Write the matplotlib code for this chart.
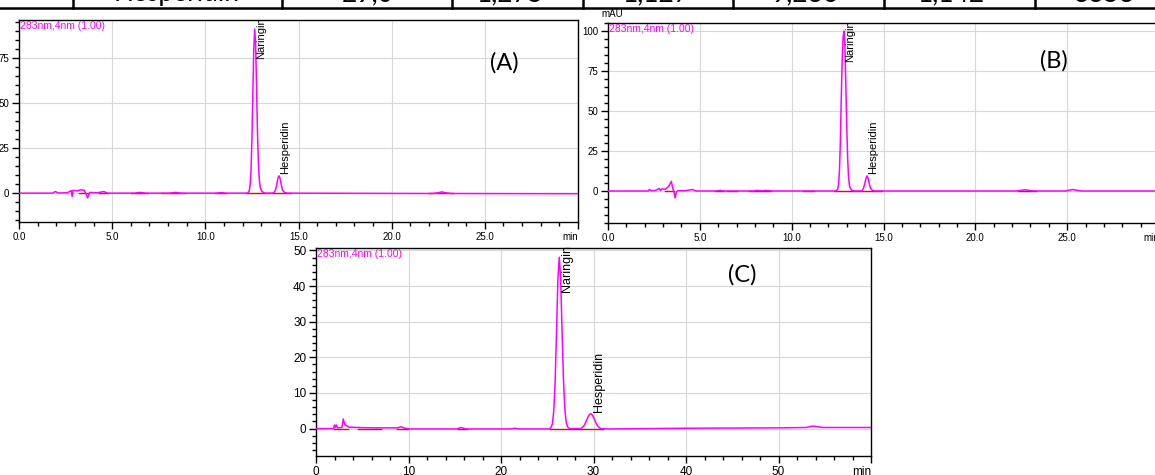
import matplotlib
matplotlib.use("Agg")
import matplotlib.pyplot as plt
from matplotlib.ticker import MultipleLocator


TABLE_ROW = ["Hesperidin", "29,0", "1,275", "1,127", "9,236", "1,142", "3353"]
PEAK_NAMES = ["Naringin", "Hesperidin"]
CHANNEL = "283nm,4nm (1.00)"

# chromatogram (A)
A_TIME = [0.0, 1.8, 1.95, 2.1, 2.6, 2.8, 2.85, 2.9, 3.1, 3.3, 3.5, 3.6, 3.68, 3.8, 4.2,
          4.55, 4.75, 6.2, 6.5, 6.8, 8.1, 8.4, 8.7, 10.6, 10.85, 11.1, 12.25, 12.35, 12.4,
          12.45, 12.5, 12.55, 12.6, 12.65, 12.7, 12.75, 12.8, 12.85, 12.9, 12.95, 13.05,
          13.2, 13.6, 13.7, 13.75, 13.8, 13.85, 13.9, 13.95, 14.0, 14.05, 14.1, 14.15,
          14.25, 14.4, 22.2, 22.5, 22.7, 22.9, 23.2, 30.0]
A_MAU = [0.0, 0.0, 0.9, 0.1, 0.2, 1.4, -1.8, 1.6, 1.2, 1.8, 1.6, -0.5, -2.6, 0.4, 0.2,
         0.9, 0.0, 0.0, 0.4, 0.0, 0.0, 0.4, 0.0, 0.0, 0.3, 0.0, 0.0, 1.0, 4.0,
         12.0, 30.0, 55.0, 80.0, 91.0, 82.0, 58.0, 33.0, 16.0, 7.0, 3.0, 0.8,
         0.0, 0.0, 0.5, 1.4, 3.2, 5.8, 8.4, 9.6, 8.6, 6.0, 3.5, 1.6,
         0.4, 0.0, -0.2, 0.2, 0.7, 0.2, -0.2, -0.3]
A_BASELINE = [(3.2, 3.7), (4.3, 4.8), (6.0, 6.9), (7.6, 8.9), (10.5, 11.1), (12.2, 14.6),
              (22.0, 23.3)]
A_PEAK_RT = [12.65, 13.95]
A_PEAK_MAU = [91.0, 9.6]

# chromatogram (B)
B_TIME = [0.0, 2.2, 2.25, 2.35, 2.6, 2.8, 2.85, 2.95, 3.1, 3.3, 3.45, 3.52, 3.6, 3.65,
          3.72, 3.8, 4.2, 4.6, 4.8, 5.9, 6.1, 6.3, 7.9, 8.1, 8.4, 8.6, 8.9, 12.4, 12.5,
          12.55, 12.6, 12.65, 12.7, 12.75, 12.8, 12.85, 12.9, 12.95, 13.0, 13.05, 13.1,
          13.15, 13.25, 13.4, 13.8, 13.85, 13.9, 13.95, 14.0, 14.05, 14.1, 14.15, 14.2,
          14.25, 14.3, 14.4, 14.55, 22.2, 22.5, 22.7, 22.9, 23.2, 24.9, 25.1, 25.3, 25.5,
          25.8, 30.0]
B_MAU = [0.0, 0.0, 0.9, 0.2, 0.4, 1.6, 0.2, 1.4, 1.0, 2.8, 6.0, 2.0, -1.0, -4.3,
         -0.8, 0.2, 0.2, 0.9, 0.0, 0.0, 0.3, 0.0, 0.0, 0.4, 0.1, 0.4, 0.0, 0.0, 1.0,
         4.0, 12.0, 30.0, 58.0, 82.0, 96.0, 100.0, 90.0, 66.0, 40.0, 20.0, 8.0,
         3.0, 0.6, 0.0, 0.0, 0.6, 1.5, 3.2, 5.6, 8.0, 9.4, 8.5, 6.0,
         3.5, 1.6, 0.4, 0.0, 0.0, 0.4, 0.8, 0.4, 0.0, 0.0, 0.5, 0.9, 0.5,
         0.0, 0.0]
B_BASELINE = [(3.1, 3.6), (5.8, 6.3), (6.5, 7.0), (7.7, 8.9), (10.6, 11.2), (12.3, 14.9),
              (22.3, 23.3)]
B_PEAK_RT = [12.85, 14.1]
B_PEAK_MAU = [100.0, 9.4]

# chromatogram (C)
C_TIME = [0.0, 1.9, 2.0, 2.1, 2.2, 2.35, 2.8, 2.95, 3.1, 3.3, 3.6, 4.5, 6.5, 8.8, 9.2,
          9.6, 10.2, 15.2, 15.7, 16.2, 21.0, 21.5, 22.0, 25.2, 25.4, 25.55, 25.7, 25.85,
          26.0, 26.15, 26.3, 26.45, 26.6, 26.75, 26.9, 27.05, 27.2, 27.4, 28.6, 28.8,
          29.0, 29.2, 29.4, 29.55, 29.7, 29.85, 30.0, 30.2, 30.4, 30.6, 30.8, 31.5,
          40.0, 50.0, 53.0, 53.5, 53.8, 54.3, 54.8, 60.0]
C_MAU = [0.0, 0.0, 1.0, 0.4, 1.0, 0.2, 0.3, 2.7, 1.2, 0.8, 0.4, 0.3, 0.2, 0.2, 0.5,
         0.1, -0.1, -0.1, 0.3, -0.1, -0.1, 0.1, -0.1, -0.1, 0.3, 1.3, 4.9, 13.0,
         27.0, 41.9, 48.1, 42.0, 27.5, 14.0, 5.5, 1.8, 0.5, 0.0, 0.0, 0.3,
         0.9, 2.0, 3.2, 3.9, 4.2, 3.9, 3.2, 2.0, 0.9, 0.3, 0.0, -0.1,
         0.1, 0.2, 0.3, 0.6, 0.7, 0.5, 0.3, 0.3]
C_BASELINE = [(1.9, 3.5), (4.5, 7.0), (8.8, 9.9), (15.3, 16.3), (25.3, 31.0)]
C_PEAK_RT = [26.3, 29.7]
C_PEAK_MAU = [48.1, 4.2]

MAGENTA = "#ff00ff"
TICK_FONT = "Liberation Sans"


def draw_panel(ax, time, mau, baseline, peak_rt, peak_mau, tag, tag_pos,
               xlim, ylim, xstep, xminor, ystep, yminor, xfmt, tick_fs, name_fs, name_off):
    for t0, t1 in baseline:
        ax.plot([t0, t1], [0, 0], color="red", lw=1.0, zorder=2)
    ax.plot(time, mau, color=MAGENTA, lw=1.1, zorder=3)

    ax.set_xlim(*xlim)
    ax.set_ylim(*ylim)
    xt = [xlim[0] + i * xstep for i in range(int(round((xlim[1] - xlim[0]) / xstep)) + 1)]
    ax.set_xticks(xt)
    ax.set_xticklabels([xfmt.format(v) for v in xt[:-1]] + ["min"])
    ax.get_xticklabels()[-1].set_ha("right")
    ax.xaxis.set_minor_locator(MultipleLocator(xminor))
    ax.yaxis.set_major_locator(MultipleLocator(ystep))
    ax.yaxis.set_minor_locator(MultipleLocator(yminor))
    ax.tick_params(which="major", direction="out", length=5, width=1, labelsize=tick_fs, pad=2)
    ax.tick_params(which="minor", direction="out", length=3, width=1)
    for lab in ax.get_xticklabels() + ax.get_yticklabels():
        lab.set_fontfamily(TICK_FONT)
    ax.grid(True, which="major", color="#d8d8d8", lw=0.8)
    ax.set_axisbelow(True)
    for sp in ax.spines.values():
        sp.set_linewidth(1.0)

    ax.text(0.002, 0.995, CHANNEL, transform=ax.transAxes, color=MAGENTA, fontsize=7.5,
            family=TICK_FONT, ha="left", va="top")

    for name, rt, h in zip(PEAK_NAMES, peak_rt, peak_mau):
        if h > 0.5 * ylim[1]:
            ax.annotate(name, xy=(rt, 1.0), xycoords=("data", "axes fraction"),
                        xytext=(name_off, 3), textcoords="offset pixels", rotation=90,
                        ha="center", va="top", fontsize=name_fs, family=TICK_FONT)
        else:
            ax.annotate(name, xy=(rt, h), xytext=(name_off, 2), textcoords="offset pixels",
                        rotation=90, ha="center", va="bottom", fontsize=name_fs,
                        family=TICK_FONT)

    ax.text(tag_pos[0], tag_pos[1], tag, transform=ax.transAxes, fontsize=17, family="Lato",
            ha="center", va="center")


W, H = 1155, 475
fig = plt.figure(figsize=(W / 100, H / 100), dpi=100)


def box(x0, y0, x1, y1):
    # pixel box (top-left origin) -> figure fraction rect
    return [x0 / W, 1 - y1 / H, (x1 - x0) / W, (y1 - y0) / H]


# cut-off table row at the top
fig.add_artist(plt.Line2D([0, 1], [1 - 8 / H, 1 - 8 / H], color="black", lw=1.8))
for xp in [73, 282, 452, 583, 733, 884, 1035]:
    fig.add_artist(plt.Line2D([xp / W, xp / W], [1 - 8 / H, 1.0], color="black", lw=1.8))
for txt, xc in zip(TABLE_ROW, [177, 368, 510, 656, 805, 952, 1105]):
    fig.text(xc / W, 1 - 1.5 / H, txt, family="Lato", fontsize=19, ha="center", va="baseline")

ax_a = fig.add_axes(box(19, 20, 578, 222))
draw_panel(ax_a, A_TIME, A_MAU, A_BASELINE, A_PEAK_RT, A_PEAK_MAU, "(A)", (0.868, 0.79),
           (0, 30), (-16, 96), 5, 1, 25, 5, "{:.1f}", 7, 8, 6)

ax_b = fig.add_axes(box(608, 23, 1159, 223))
draw_panel(ax_b, B_TIME, B_MAU, B_BASELINE, B_PEAK_RT, B_PEAK_MAU, "(B)", (0.809, 0.81),
           (0, 30), (-20, 105), 5, 1, 25, 5, "{:.1f}", 7, 8, 6)
fig.text(601 / W, 1 - 9 / H, "mAU", family=TICK_FONT, fontsize=7, ha="left", va="top")

ax_c = fig.add_axes(box(316, 248, 871, 456))
draw_panel(ax_c, C_TIME, C_MAU, C_BASELINE, C_PEAK_RT, C_PEAK_MAU, "(C)", (0.768, 0.87),
           (0, 60), (-7.7, 50.7), 10, 2, 10, 2, "{:.0f}", 8.5, 9, 8)

fig.savefig("out.png", dpi=100)
